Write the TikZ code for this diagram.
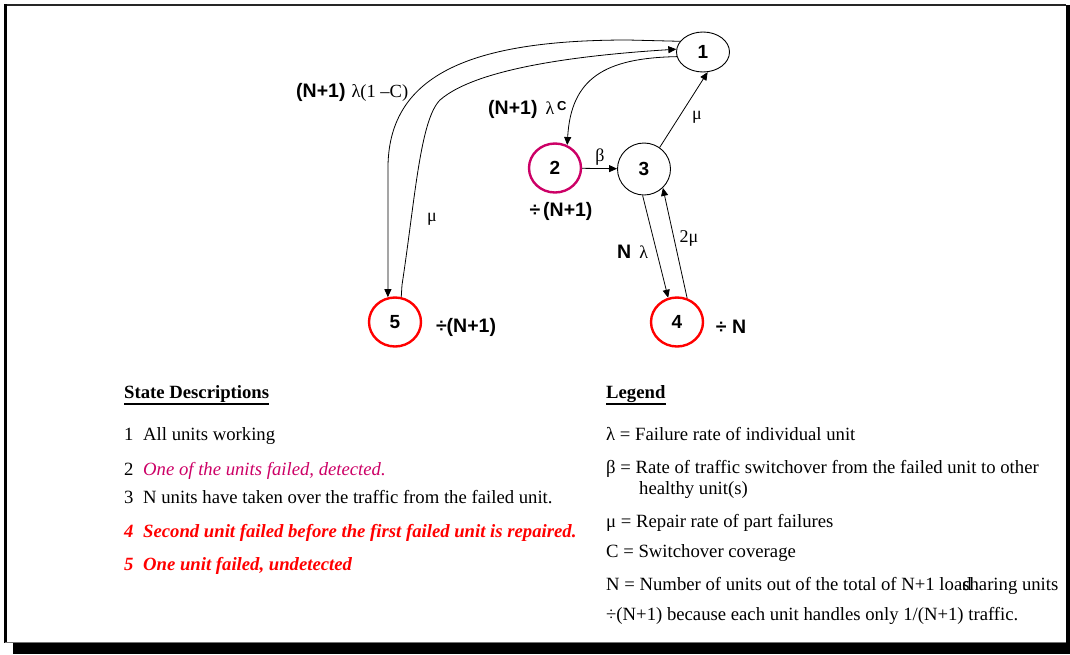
\documentclass[tikz,border=0pt]{standalone}
\usepackage{fontspec}
\setmainfont{Liberation Serif}
\newfontfamily\arial{Liberation Sans}
\usetikzlibrary{shapes.geometric,arrows.meta}
\definecolor{mag}{RGB}{204,0,102}
\definecolor{rd}{RGB}{255,0,0}
\newcommand{\numbox}[1]{\makebox[19pt][l]{#1}}
\begin{document}
\begin{tikzpicture}[x=1pt,y=-1pt,
  st/.style={ellipse, draw, line width=0.9pt, inner sep=0pt, font=\arial\bfseries\fontsize{19}{19}\selectfont},
  bigst/.style={st, minimum width=52pt, minimum height=49pt, line width=2.4pt},
  arr/.style={line width=0.8pt, -{Triangle[length=8pt,width=7pt]}},
  lbl/.style={inner sep=0pt, font=\arial\bfseries\fontsize{19.5}{22}\selectfont},
  gk/.style={inner sep=0pt, font=\fontsize{18}{20}\selectfont},
  txt/.style={anchor=base west, inner sep=0pt, font=\fontsize{18.7}{20}\selectfont},
  hd/.style={txt, font=\fontsize{18.7}{20}\selectfont\bfseries}
]
\useasboundingbox (0,0) rectangle (1070,654);
% frame and shadow
\fill[black] (13,643) rectangle (1070,654);
\fill[black] (1065.5,5) rectangle (1070,654);
\draw[line width=2pt, black!85] (5,5) -- (1066,5);
\draw[line width=3pt, black] (5.5,4) -- (5.5,643);
\draw[line width=1pt, black!55] (5,642.5) -- (1066,642.5);

% states
\node[st, minimum width=53pt, minimum height=40pt] (n1) at (703,52) {1};
\node[bigst, draw=mag] (n2) at (555,168) {2};
\node[st, minimum width=53pt, minimum height=52pt] (n3) at (644,169) {3};
\node[bigst, draw=rd] (n5) at (395,322) {5};
\node[bigst, draw=rd] (n4) at (677,322) {4};

% connectors
\draw[arr] (n2) -- (n3);
\draw[arr] (n3.54) -- (n1.-77);
\draw[arr] (n3.-93) -- (n4.110);
\draw[arr] (n4.67) -- (n3.-45);
\draw[arr] (n1.190) .. controls (605,58) and (571,78) .. (n2.62);
\coordinate (o1) at (628,40);
\coordinate (o2) at (388,165);
\draw[arr] (n1.155) -- (o1) .. controls (470,40) and (390,75) .. (o2) -- (n5.106);
\coordinate (i1) at (402,285);
\coordinate (i2) at (440,100);
\draw[arr] (n5.76) -- (i1) .. controls (415,200) and (420,120) .. (i2) .. controls (480,65) and (600,54) .. (n1.174);

% labels
\node[anchor=west, inner sep=0pt] (l1) at (296,92) {{\arial\bfseries\fontsize{19.5}{22}\selectfont (N+1)}\hspace{6pt}{\fontsize{18.5}{20}\selectfont λ(1 –C)}};
\node[anchor=west, inner sep=0pt] (l2) at (488,109) {{\arial\bfseries\fontsize{19.5}{22}\selectfont (N+1)}\hspace{8pt}{\fontsize{18}{20}\selectfont λ}\hspace{3pt}\raisebox{4pt}{\arial\bfseries\fontsize{13}{14}\selectfont C}};
\node[gk] (lb) at (600,157) {β};
\node[gk] (lm1) at (697,117) {μ};
\node[gk] (lm2) at (432,219) {μ};
\node[anchor=west, inner sep=0pt] (lnl) at (617,252) {{\arial\bfseries\fontsize{19.5}{22}\selectfont N}\hspace{8pt}{\fontsize{18}{20}\selectfont λ}};
\node[gk] (l2m) at (689,238) {2μ};
\node[lbl] (d2) at (561,211) {÷\hspace{3pt}(N+1)};
\node[lbl] (d5) at (466,327) {÷(N+1)};
\node[lbl] (d4) at (731,327) {÷ N};

% state descriptions
\node[hd] (sdh) at (124,398) {State Descriptions};
\draw[line width=1.2pt] (sdh.south west |- 0,404) -- (sdh.south east |- 0,404);
\node[txt] (s1) at (124,440) {\numbox{1}All units working};
\node[txt] (s2) at (124,475) {\numbox{2}\textcolor{mag}{\itshape One of the units failed, detected.}};
\node[txt] (s3) at (124,503) {\numbox{3}N units have taken over the traffic from the failed unit.};
\node[txt, text=rd, font=\fontsize{18.7}{20}\selectfont\bfseries\itshape] (s4) at (124,537) {\numbox{4}Second unit failed before the first failed unit is repaired.};
\node[txt, text=rd, font=\fontsize{18.7}{20}\selectfont\bfseries\itshape] (s5) at (124,570) {\numbox{5}One unit failed, undetected};

% legend
\node[hd] (lgh) at (606,398) {Legend};
\draw[line width=1.2pt] (lgh.south west |- 0,404) -- (lgh.south east |- 0,404);
\node[txt] (g1) at (606,440) {λ = Failure rate of individual unit};
\node[txt] (g2) at (606,473) {β = Rate of traffic switchover from the failed unit to other};
\node[txt] (g2b) at (639,494) {healthy unit(s)};
\node[txt] (g3) at (606,527) {μ = Repair rate of part failures};
\node[txt] (g4) at (606,557) {C = Switchover coverage};
\node[txt] (g5) at (606,590) {N = Number of units out of the total of N+1 loa\rlap{d}sharing units};
\node[txt] (g6) at (606,620) {÷(N+1) because each unit handles only 1/(N+1) traffic.};
\end{tikzpicture}
\end{document}
